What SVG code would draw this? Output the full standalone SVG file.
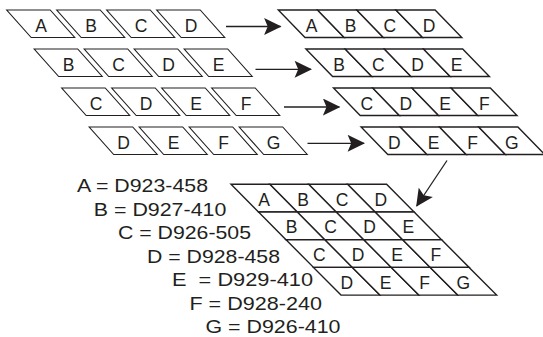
<svg xmlns="http://www.w3.org/2000/svg" width="543" height="337" viewBox="0 0 543 337">
<style>
.s{fill:#fff;stroke:#231f20;stroke-width:1.1;stroke-linejoin:miter}
.c{fill:#fff;stroke:#231f20;stroke-width:1.4}
.l{font-family:"Liberation Sans",Arial,Helvetica,sans-serif;font-size:17.5px;fill:#231f20;text-anchor:middle}
.t{font-family:"Liberation Sans",Arial,Helvetica,sans-serif;font-size:19px;fill:#231f20}
.a{fill:none;stroke:#231f20;stroke-width:1.3}
</style>
<defs>
<marker id="ah" markerUnits="userSpaceOnUse" markerWidth="18" markerHeight="17" viewBox="0 0 17 16.6" refX="16" refY="8.3" orient="auto">
<path d="M0,0 L17,8.3 L0,16.6 L3.5,8.3 z" fill="#231f20"/>
</marker>
<polygon id="lp" points="0,0 43.5,0 68,27.5 24.5,27.5"/>
<polygon id="rp" points="0,0 39.2,0 65.9,27.5 26.7,27.5"/>
<polygon id="gp" points="0,0 38.9,0 66.4,27.7 27.5,27.7"/>
</defs>

<!-- left strips -->
<g id="L1A" transform="translate(6.7,10)"><use href="#lp" class="s"/><text class="l" x="34.3" y="21.5">A</text></g>
<g id="L1B" transform="translate(56.7,10)"><use href="#lp" class="s"/><text class="l" x="34.3" y="21.5">B</text></g>
<g id="L1C" transform="translate(106.7,10)"><use href="#lp" class="s"/><text class="l" x="34.3" y="21.5">C</text></g>
<g id="L1D" transform="translate(156.7,10)"><use href="#lp" class="s"/><text class="l" x="34.3" y="21.5">D</text></g>

<g id="L2B" transform="translate(34.2,49)"><use href="#lp" class="s"/><text class="l" x="34.3" y="21.5">B</text></g>
<g id="L2C" transform="translate(84.2,49)"><use href="#lp" class="s"/><text class="l" x="34.3" y="21.5">C</text></g>
<g id="L2D" transform="translate(134.2,49)"><use href="#lp" class="s"/><text class="l" x="34.3" y="21.5">D</text></g>
<g id="L2E" transform="translate(184.2,49)"><use href="#lp" class="s"/><text class="l" x="34.3" y="21.5">E</text></g>

<g id="L3C" transform="translate(61.7,88)"><use href="#lp" class="s"/><text class="l" x="34.3" y="21.5">C</text></g>
<g id="L3D" transform="translate(111.7,88)"><use href="#lp" class="s"/><text class="l" x="34.3" y="21.5">D</text></g>
<g id="L3E" transform="translate(161.7,88)"><use href="#lp" class="s"/><text class="l" x="34.3" y="21.5">E</text></g>
<g id="L3F" transform="translate(211.7,88)"><use href="#lp" class="s"/><text class="l" x="34.3" y="21.5">F</text></g>

<g id="L4D" transform="translate(89.2,127)"><use href="#lp" class="s"/><text class="l" x="34.3" y="21.5">D</text></g>
<g id="L4E" transform="translate(139.2,127)"><use href="#lp" class="s"/><text class="l" x="34.3" y="21.5">E</text></g>
<g id="L4F" transform="translate(189.2,127)"><use href="#lp" class="s"/><text class="l" x="34.3" y="21.5">F</text></g>
<g id="L4G" transform="translate(239.2,127)"><use href="#lp" class="s"/><text class="l" x="34.3" y="21.5">G</text></g>

<!-- right strips -->
<g id="R1" transform="translate(278.3,10)">
<use href="#rp" class="c"/><use href="#rp" class="c" x="39.2"/><use href="#rp" class="c" x="78.4"/><use href="#rp" class="c" x="117.6"/>
<text class="l" x="33.2" y="21.5">A</text><text class="l" x="72.4" y="21.5">B</text><text class="l" x="111.6" y="21.5">C</text><text class="l" x="150.8" y="21.5">D</text>
</g>
<g id="R2" transform="translate(305.9,49)">
<use href="#rp" class="c"/><use href="#rp" class="c" x="39.2"/><use href="#rp" class="c" x="78.4"/><use href="#rp" class="c" x="117.6"/>
<text class="l" x="33.2" y="21.5">B</text><text class="l" x="72.4" y="21.5">C</text><text class="l" x="111.6" y="21.5">D</text><text class="l" x="150.8" y="21.5">E</text>
</g>
<g id="R3" transform="translate(333.5,88)">
<use href="#rp" class="c"/><use href="#rp" class="c" x="39.2"/><use href="#rp" class="c" x="78.4"/><use href="#rp" class="c" x="117.6"/>
<text class="l" x="33.2" y="21.5">C</text><text class="l" x="72.4" y="21.5">D</text><text class="l" x="111.6" y="21.5">E</text><text class="l" x="150.8" y="21.5">F</text>
</g>
<g id="R4" transform="translate(361.1,127)">
<use href="#rp" class="c"/><use href="#rp" class="c" x="39.2"/><use href="#rp" class="c" x="78.4"/><use href="#rp" class="c" x="117.6"/>
<text class="l" x="33.2" y="21.5">D</text><text class="l" x="72.4" y="21.5">E</text><text class="l" x="111.6" y="21.5">F</text><text class="l" x="150.8" y="21.5">G</text>
</g>

<!-- grid -->
<g id="grid">
<g transform="translate(231,184.3)">
<use href="#gp" class="c"/><use href="#gp" class="c" x="38.9"/><use href="#gp" class="c" x="77.8"/><use href="#gp" class="c" x="116.7"/>
<text class="l" x="33.2" y="21.4">A</text><text class="l" x="72.1" y="21.4">B</text><text class="l" x="111" y="21.4">C</text><text class="l" x="149.9" y="21.4">D</text>
</g>
<g transform="translate(258.5,212)">
<use href="#gp" class="c"/><use href="#gp" class="c" x="38.9"/><use href="#gp" class="c" x="77.8"/><use href="#gp" class="c" x="116.7"/>
<text class="l" x="33.2" y="21.4">B</text><text class="l" x="72.1" y="21.4">C</text><text class="l" x="111" y="21.4">D</text><text class="l" x="149.9" y="21.4">E</text>
</g>
<g transform="translate(286,239.7)">
<use href="#gp" class="c"/><use href="#gp" class="c" x="38.9"/><use href="#gp" class="c" x="77.8"/><use href="#gp" class="c" x="116.7"/>
<text class="l" x="33.2" y="21.4">C</text><text class="l" x="72.1" y="21.4">D</text><text class="l" x="111" y="21.4">E</text><text class="l" x="149.9" y="21.4">F</text>
</g>
<g transform="translate(313.5,267.4)">
<use href="#gp" class="c"/><use href="#gp" class="c" x="38.9"/><use href="#gp" class="c" x="77.8"/><use href="#gp" class="c" x="116.7"/>
<text class="l" x="33.2" y="21.4">D</text><text class="l" x="72.1" y="21.4">E</text><text class="l" x="111" y="21.4">F</text><text class="l" x="149.9" y="21.4">G</text>
</g>
</g>

<!-- legend -->
<g id="legend">
<text class="t" x="77" y="192.3" textLength="131" lengthAdjust="spacingAndGlyphs">A = D923-458</text>
<text class="t" x="93.8" y="215.8" textLength="132.5" lengthAdjust="spacingAndGlyphs">B = D927-410</text>
<text class="t" x="118" y="239.3" textLength="133" lengthAdjust="spacingAndGlyphs">C = D926-505</text>
<text class="t" x="147" y="262.8" textLength="133" lengthAdjust="spacingAndGlyphs">D = D928-458</text>
<text class="t" x="172" y="286.3" textLength="141" lengthAdjust="spacingAndGlyphs" xml:space="preserve">E  = D929-410</text>
<text class="t" x="189.4" y="309.8" textLength="132.5" lengthAdjust="spacingAndGlyphs">F = D928-240</text>
<text class="t" x="205.5" y="333.3" textLength="135" lengthAdjust="spacingAndGlyphs">G = D926-410</text>
</g>

<!-- connectors -->
<g id="connectors">
<line class="a" x1="226" y1="26.5" x2="280.5" y2="26.5" marker-end="url(#ah)"/>
<line class="a" x1="255.5" y1="69.3" x2="311" y2="69.3" marker-end="url(#ah)"/>
<line class="a" x1="284" y1="107" x2="339.3" y2="107" marker-end="url(#ah)"/>
<line class="a" x1="307.5" y1="143.3" x2="364" y2="143.3" marker-end="url(#ah)"/>
<line class="a" x1="447" y1="160.5" x2="416.7" y2="206" marker-end="url(#ah)"/>
</g>
</svg>
